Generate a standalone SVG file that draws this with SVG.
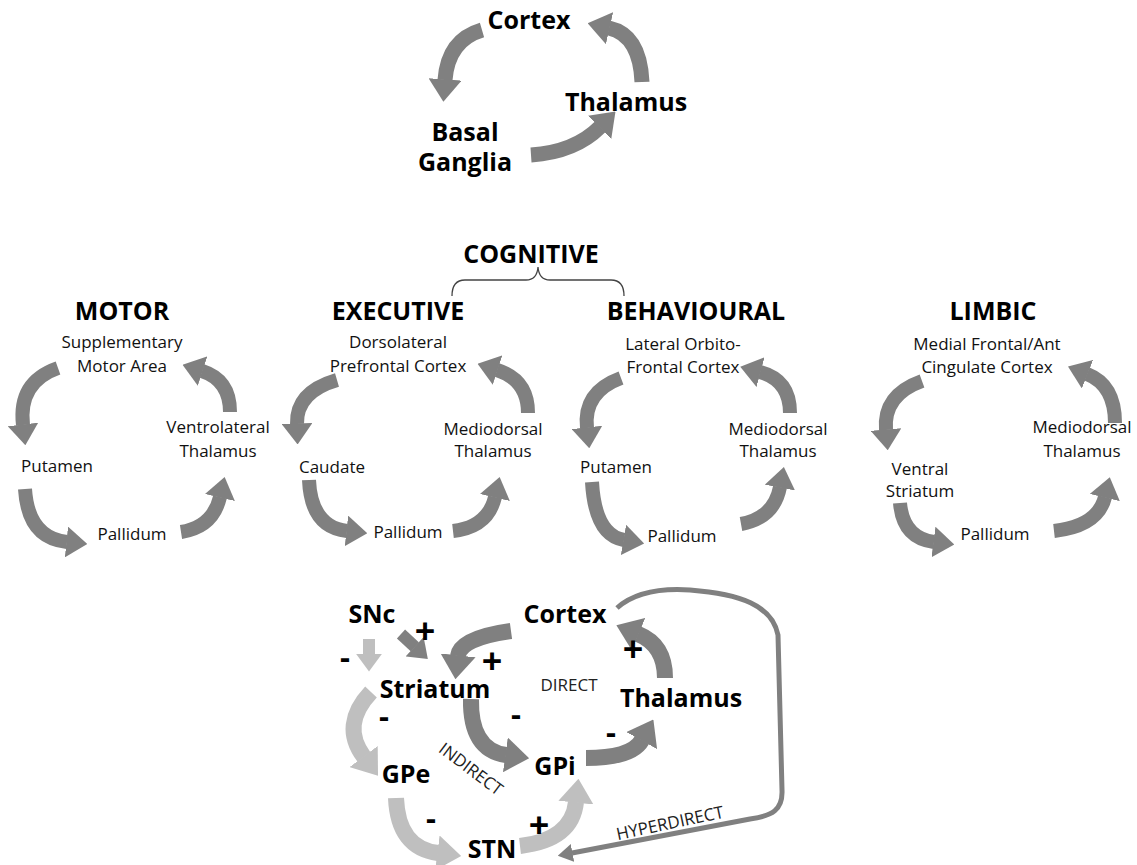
<svg xmlns="http://www.w3.org/2000/svg" width="1137" height="865" viewBox="0 0 1137 865">
  <defs>
    <style>
      text { font-family: "Open Sans", "Liberation Sans", sans-serif; text-anchor: middle; }
      .big { font-size: 25px; font-weight: 700; fill: #000; }
      .lbl { font-size: 17px; fill: #111; }
      .small { font-size: 17px; fill: #222; }
      .plus { font-size: 36px; font-weight: 700; fill: #000; }
      .minus { font-size: 31px; font-weight: 700; fill: #000; }
      .dark { fill: none; stroke: #808080; stroke-linecap: butt; marker-end: url(#headDark); }
      .light { fill: none; stroke: #bfbfbf; stroke-linecap: butt; marker-end: url(#headLight); }
      .w15 { stroke-width: 15; }
      .w14 { stroke-width: 14; }
      .w16 { stroke-width: 16; }
      .w12 { stroke-width: 12; }
      .hyper { fill: none; stroke: #808080; stroke-width: 5; stroke-linejoin: round; marker-end: url(#headThin); }
      .brace { fill: none; stroke: #444; stroke-width: 1.3; }
    </style>
    <marker id="headDark" viewBox="0 0 15 22" refX="0.4" refY="11" markerWidth="1.5" markerHeight="2.2" orient="auto" markerUnits="strokeWidth">
      <path d="M0,0 L15,11 L0,22 z" fill="#808080"/>
    </marker>
    <marker id="headLight" viewBox="0 0 15 22" refX="0.4" refY="11" markerWidth="1.5" markerHeight="2.2" orient="auto" markerUnits="strokeWidth">
      <path d="M0,0 L15,11 L0,22 z" fill="#bfbfbf"/>
    </marker>
    <marker id="headThin" viewBox="0 0 15 18" refX="0.5" refY="9" markerWidth="3" markerHeight="3.6" orient="auto" markerUnits="strokeWidth">
      <path d="M0,0 L15,9 L0,18 z" fill="#808080"/>
    </marker>
  </defs>

  <rect width="1137" height="865" fill="#fff"/>

  <!-- Connectors -->
  <g id="connectors">
    <!-- general cortex / basal ganglia / thalamus cycle -->
    <path class="dark w15" d="M 482 30 Q 448 40 445 80"/>
    <path class="dark w15" d="M 642 82 Q 640 35 609 28"/>
    <path class="dark w15" d="M 531 155 Q 575 152 600 127"/>

    <!-- motor loop -->
    <path class="dark w14" d="M 58 368 Q 18 382 23 425"/>
    <path class="dark w14" d="M 25 489 Q 28 538 67 542"/>
    <path class="dark w14" d="M 181 532 Q 213 527 220 497"/>
    <path class="dark w14" d="M 230 412 Q 230 380 202 371"/>

    <!-- executive loop -->
    <path class="dark w14" d="M 337 380 Q 296 392 297 424"/>
    <path class="dark w14" d="M 309 480 Q 311 527 347 531"/>
    <path class="dark w14" d="M 453 531 Q 488 527 495 497"/>
    <path class="dark w14" d="M 528 413 Q 528 380 497 370"/>

    <!-- behavioural loop -->
    <path class="dark w14" d="M 621 378 Q 583 392 587 428"/>
    <path class="dark w14" d="M 592 482 Q 595 535 624 540"/>
    <path class="dark w14" d="M 741 524 Q 774 518 780 487"/>
    <path class="dark w14" d="M 790 413 Q 790 380 760 372"/>

    <!-- limbic loop -->
    <path class="dark w14" d="M 922 381 Q 883 395 886 430"/>
    <path class="dark w14" d="M 900 503 Q 903 538 934 542"/>
    <path class="dark w14" d="M 1054 531 Q 1098 526 1105 497"/>
    <path class="dark w14" d="M 1115 423 Q 1115 385 1087 374"/>

    <!-- cognitive brace -->
    <path class="brace" d="M 452 296 Q 452 280 465 280 L 526 280 Q 537 280 538 267 Q 539 280 550 280 L 611 280 Q 624 280 624 296"/>

    <!-- direct / indirect / hyperdirect pathways -->
    <path class="light w12" d="M 369 639 L 369 654"/>
    <path class="dark w12" d="M 401 634 L 415 647"/>
    <path class="dark w16" d="M 511 631 Q 460 638 458 656"/>
    <path class="dark w16" d="M 665 678 Q 665 645 638 634"/>
    <path class="dark w16" d="M 471 699 Q 470 750 506 755"/>
    <path class="dark w16" d="M 586 758 Q 632 758 642 740"/>
    <path class="light w16" d="M 371 692 Q 340 725 364 757"/>
    <path class="light w16" d="M 396 798 Q 398 848 438 853"/>
    <path class="light w16" d="M 520 846 Q 572 840 576 802"/>
    <path class="hyper" d="M 617 608 C 635 592 660 588 690 590 C 740 594 772 605 778 635 L 782 790 C 783 810 772 816 750 819 L 572 853"/>
  </g>

  <!-- General cycle -->
  <g id="top-cortex"><text class="big" x="529" y="29">Cortex</text></g>
  <g id="top-thalamus"><text class="big" x="626" y="111">Thalamus</text></g>
  <g id="top-basal-ganglia"><text class="big" x="465" y="141">Basal</text><text class="big" x="465" y="171">Ganglia</text></g>

  <!-- Cognitive heading -->
  <g id="cognitive"><text class="big" x="531" y="263">COGNITIVE</text></g>

  <!-- Motor loop -->
  <g id="motor">
    <text class="big" x="122" y="320">MOTOR</text>
    <g id="motor-sma"><text class="lbl" x="122" y="348">Supplementary</text><text class="lbl" x="122" y="372">Motor Area</text></g>
    <g id="motor-thalamus"><text class="lbl" x="218" y="433">Ventrolateral</text><text class="lbl" x="218" y="457">Thalamus</text></g>
    <g id="motor-putamen"><text class="lbl" x="57" y="472">Putamen</text></g>
    <g id="motor-pallidum"><text class="lbl" x="132" y="540">Pallidum</text></g>
  </g>

  <!-- Executive loop -->
  <g id="executive">
    <text class="big" x="398" y="320">EXECUTIVE</text>
    <g id="exec-cortex"><text class="lbl" x="398" y="348">Dorsolateral</text><text class="lbl" x="398" y="372">Prefrontal Cortex</text></g>
    <g id="exec-thalamus"><text class="lbl" x="493" y="435">Mediodorsal</text><text class="lbl" x="493" y="457">Thalamus</text></g>
    <g id="exec-caudate"><text class="lbl" x="332" y="473">Caudate</text></g>
    <g id="exec-pallidum"><text class="lbl" x="408" y="538">Pallidum</text></g>
  </g>

  <!-- Behavioural loop -->
  <g id="behavioural">
    <text class="big" x="696" y="320">BEHAVIOURAL</text>
    <g id="behav-cortex"><text class="lbl" x="683" y="350">Lateral Orbito-</text><text class="lbl" x="683" y="373">Frontal Cortex</text></g>
    <g id="behav-thalamus"><text class="lbl" x="778" y="435">Mediodorsal</text><text class="lbl" x="778" y="457">Thalamus</text></g>
    <g id="behav-putamen"><text class="lbl" x="616" y="473">Putamen</text></g>
    <g id="behav-pallidum"><text class="lbl" x="682" y="542">Pallidum</text></g>
  </g>

  <!-- Limbic loop -->
  <g id="limbic">
    <text class="big" x="993" y="320">LIMBIC</text>
    <g id="limbic-cortex"><text class="lbl" x="987" y="350">Medial Frontal/Ant</text><text class="lbl" x="987" y="373">Cingulate Cortex</text></g>
    <g id="limbic-thalamus"><text class="lbl" x="1082" y="433">Mediodorsal</text><text class="lbl" x="1082" y="457">Thalamus</text></g>
    <g id="limbic-striatum"><text class="lbl" x="920" y="475">Ventral</text><text class="lbl" x="920" y="497">Striatum</text></g>
    <g id="limbic-pallidum"><text class="lbl" x="995" y="540">Pallidum</text></g>
  </g>

  <!-- Basal ganglia circuit -->
  <g id="snc"><text class="big" x="372" y="623">SNc</text></g>
  <g id="cortex"><text class="big" x="565" y="623">Cortex</text></g>
  <g id="striatum"><text class="big" x="435" y="698">Striatum</text></g>
  <g id="thalamus"><text class="big" x="681" y="707">Thalamus</text></g>
  <g id="gpi"><text class="big" x="555" y="775">GPi</text></g>
  <g id="gpe"><text class="big" x="406" y="783">GPe</text></g>
  <g id="stn"><text class="big" x="492" y="858">STN</text></g>

  <g id="pathway-labels">
    <text class="small" x="569" y="691">DIRECT</text>
    <text class="small" transform="translate(471 769) rotate(37)" dy="0.35em">INDIRECT</text>
    <text class="small" transform="translate(670 823) rotate(-12)" dy="0.35em">HYPERDIRECT</text>
  </g>

  <g id="signs">
    <text class="plus" x="425" y="644">+</text>
    <text class="plus" x="492" y="674">+</text>
    <text class="plus" x="633" y="662">+</text>
    <text class="plus" x="539" y="838">+</text>
    <text class="minus" x="345" y="668">-</text>
    <text class="minus" x="384" y="727">-</text>
    <text class="minus" x="516" y="725">-</text>
    <text class="minus" x="611" y="743">-</text>
    <text class="minus" x="431" y="829">-</text>
  </g>
</svg>
